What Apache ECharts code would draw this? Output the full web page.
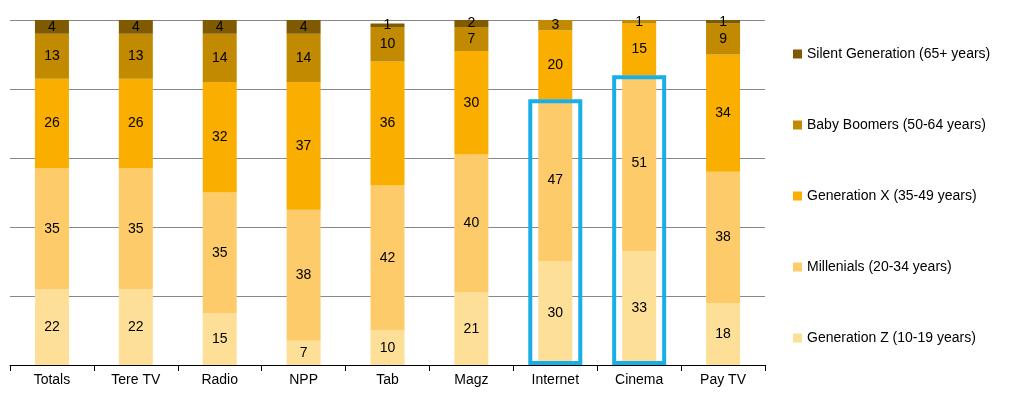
<!DOCTYPE html>
<html><head><meta charset="utf-8">
<script src="https://cdn.jsdelivr.net/npm/echarts@6/dist/echarts.min.js"></script>
<style>body{margin:0}#c{width:1024px;height:420px}</style></head>
<body><div id="c"></div>
<script>
var categories = ['Totals', 'Tere TV', 'Radio', 'NPP', 'Tab', 'Magz', 'Internet', 'Cinema', 'Pay TV'];
var genZ = [22, 22, 15, 7, 10, 21, 30, 33, 18];
var millenials = [35, 35, 35, 38, 42, 40, 47, 51, 38];
var genX = [26, 26, 32, 37, 36, 30, 20, 15, 34];
var boomers = [13, 13, 14, 14, 10, 7, 3, 1, 9];
var silent = [4, 4, 4, 4, 1, 2, 0, 0, 1];
//高亮框（Internet, Cinema）
var highlight = [null, null, null, null, null, null, 77, 84, null];

var names = ['Generation Z (10-19 years)', 'Millenials (20-34 years)', 'Generation X (35-49 years)', 'Baby Boomers (50-64 years)', 'Silent Generation (65+ years)'];
var colors = ['#FDDF97', '#FDCB6A', '#F9AE00', '#C28A00', '#7F5A00'];
var values = [genZ, millenials, genX, boomers, silent];

var series = [];
for (var i = 0; i < values.length; i++) {
	series.push({
		name: names[i], type: 'bar', stack: 'a', barWidth: 34,
		data: values[i], itemStyle: { color: colors[i] },
		label: {
			show: true, position: 'inside', color: '#000', fontSize: 14, fontFamily: 'Liberation Sans',
			formatter: function (p) { return p.value ? p.value : ''; }
		}
	});
}
series.push({
	type: 'bar', xAxisIndex: 1, barWidth: 54, data: highlight, silent: true, z: 5,
	itemStyle: { color: 'rgba(0,0,0,0)', borderColor: '#1AAEE6', borderWidth: 4 }
});

var chart = echarts.init(document.getElementById('c'));
chart.setOption({
	animation: false,
	grid: { left: 10, right: 259, top: 20, bottom: 55 },
	legend: {
		orient: 'vertical', left: 788, top: 42, itemGap: 57, itemWidth: 9, itemHeight: 9,
		icon: 'rect', data: names.slice().reverse(),
		textStyle: { fontSize: 14, fontFamily: 'Liberation Sans', color: '#000' }
	},
	xAxis: [{
		type: 'category', data: categories,
		axisLine: { lineStyle: { color: '#000' } },
		axisTick: { show: true, length: 6, lineStyle: { color: '#000' } },
		axisLabel: { color: '#000', fontSize: 14, fontFamily: 'Liberation Sans' }
	}, {
		type: 'category', data: categories, show: false
	}],
	yAxis: {
		type: 'value', min: 0, max: 100, interval: 20,
		axisLabel: { show: false }, axisLine: { show: false }, axisTick: { show: false },
		splitLine: { lineStyle: { color: '#888' } }
	},
	series: series
});
</script></body></html>
